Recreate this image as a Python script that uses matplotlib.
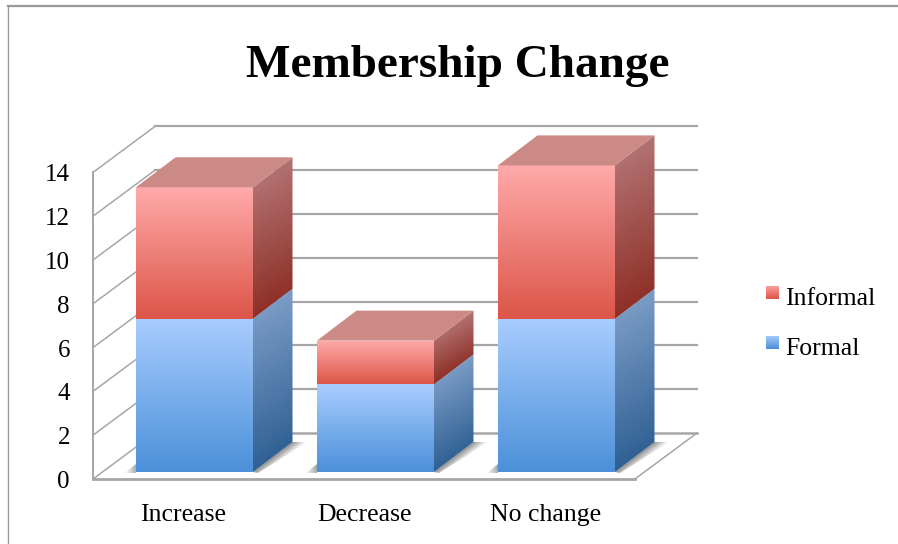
import numpy as np
import matplotlib
matplotlib.use("Agg")
import matplotlib.pyplot as plt
from matplotlib.patches import Polygon
from matplotlib.lines import Line2D

categories = ["Increase", "Decrease", "No change"]
formal = [7, 4, 7]
informal = [6, 2, 7]
y_ticks = [0, 2, 4, 6, 8, 10, 12, 14]

W, H = 898, 544
plt.rcParams["font.family"] = ["Liberation Serif", "DejaVu Serif"]

fig = plt.figure(figsize=(W / 100, H / 100), dpi=100, facecolor="white")
# axes on the front plane of the bars: 181 px per category, 21.9 px per unit
# limits run past the data so the 3d faces are not cut off
x_lo, x_hi, y_lo, y_hi = -0.5, 3.0, -1, 16
px_x, px_y = 181, 21.9
left = 104
bottom = 472 + (0 - y_lo) * px_y
ax = fig.add_axes([left / W, 1 - bottom / H, (x_hi - x_lo) * px_x / W, (y_hi - y_lo) * px_y / H])
ax.set_xlim(x_lo, x_hi)
ax.set_ylim(y_lo, y_hi)
ax.axis("off")

ux = 1 / px_x
uy = 1 / px_y
bar_w = 117 * ux
bar_dx, bar_dy = 39.5 * ux, 30 * uy
wall_x0 = -0.5 - 11 * ux  # front left corner of the side wall
wall_y0 = -7 * uy
wall_dx, wall_dy = 62 * ux, 46 * uy
wall_len = 542 * ux


def hexrgb(c):
    return np.array(matplotlib.colors.to_rgba(c))


def grad_poly(pts, c0, c1, direction=(0, -1), z=3):
    # polygon filled with a linear gradient, direction is in pixels
    pts = np.array(pts, dtype=float)
    x0, y0 = pts.min(axis=0)
    x1, y1 = pts.max(axis=0)
    xs, ys = np.meshgrid(np.linspace(x0, x1, 160), np.linspace(y0, y1, 160))
    t = (xs / ux) * direction[0] + (ys / uy) * direction[1]
    ends = (pts[:, 0] / ux) * direction[0] + (pts[:, 1] / uy) * direction[1]
    t = np.clip((t - ends.min()) / max(ends.max() - ends.min(), 1e-9), 0, 1)
    img = hexrgb(c0) * (1 - t[..., None]) + hexrgb(c1) * t[..., None]
    im = ax.imshow(img, extent=(x0, x1, y0, y1), origin="lower", aspect="auto",
                   zorder=z, interpolation="bilinear")
    clip = Polygon(pts, closed=True, transform=ax.transData, fc="none", ec="none", clip_on=False)
    ax.add_patch(clip)
    im.set_clip_path(clip)


grid_c = "#a6a6a6"
for i, v in enumerate(y_ticks):
    y = wall_y0 + v
    # side wall lines and back wall lines
    ax.plot([wall_x0, wall_x0 + wall_dx], [y, y + wall_dy], color=grid_c, lw=1.1,
            clip_on=False, zorder=1)
    ax.plot([wall_x0 + wall_dx, wall_x0 + wall_dx + wall_len], [y + wall_dy, y + wall_dy],
            color=grid_c, lw=1.6 if i else 1.8, clip_on=False, zorder=1)
    ax.text(wall_x0 - 23 * ux, y - 3 * uy, str(v), ha="right", va="center", fontsize=18,
            color="black", clip_on=False)

# wall edges and floor
ax.plot([wall_x0, wall_x0], [wall_y0, wall_y0 + 14], color=grid_c, lw=1.4, clip_on=False, zorder=1)
ax.plot([wall_x0, wall_x0 + wall_len], [wall_y0, wall_y0], color=grid_c, lw=2, clip_on=False, zorder=1)
ax.plot([wall_x0 + wall_len, wall_x0 + wall_len + wall_dx], [wall_y0, wall_y0 + wall_dy],
        color=grid_c, lw=1.1, clip_on=False, zorder=1)

for i in range(len(categories)):
    xa = i - bar_w / 2
    xb = i + bar_w / 2
    # floor shadow
    grad_poly([(xb, 0), (xb + bar_dx, bar_dy), (xb + bar_dx + 15 * ux, bar_dy), (xb + 5 * ux, -1 * uy)],
              "#8a8a8a", "#ffffff", (0.6, -0.8), z=2)
    grad_poly([(xa - 11 * ux, -1 * uy), (xa, 8 * uy), (xa, -1 * uy)], "#ffffff", "#9a9a9a", (1, 0.3), z=2)

    low = 0
    segments = [(formal[i], "#a9cdff", "#4b90d9", "#7b9cc6", "#2f6093"),
                (informal[i], "#ffaaaa", "#dc5548", "#b27272", "#8e2f27")]
    for val, c_top, c_bot, s_top, s_bot in segments:
        high = low + val
        grad_poly([(xa, low), (xb, low), (xb, high), (xa, high)], c_bot, c_top, (0, 1), z=4 + i)
        grad_poly([(xb, low), (xb + bar_dx, low + bar_dy), (xb + bar_dx, high + bar_dy), (xb, high)],
                  s_bot, s_top, (-0.6, 1), z=3.5 + i)
        low = high
    ax.add_patch(Polygon([(xa, low), (xb, low), (xb + bar_dx, low + bar_dy), (xa + bar_dx, low + bar_dy)],
                         closed=True, fc="#cc8a86", ec="none", zorder=4 + i, clip_on=False))
    ax.text(i - 11 * ux, -43 * uy, categories[i], ha="center", va="center", fontsize=18.5, clip_on=False)

ax.set_xlim(x_lo, x_hi)
ax.set_ylim(y_lo, y_hi)

fig.text(458 / W, 1 - 66 / H, "Membership Change", ha="center", va="center",
         fontsize=34, fontweight="bold", color="black")

# legend
legend_items = [("Informal", "#fba3a0", "#dc5548", 292.5), ("Formal", "#a9cdff", "#4b90d9", 342.5)]
for label, c_top, c_bot, py in legend_items:
    lax = fig.add_axes([766 / W, 1 - (py + 6.5) / H, 13 / W, 13 / H])
    lax.imshow(np.linspace(hexrgb(c_top), hexrgb(c_bot), 13)[:, None, :], aspect="auto")
    lax.axis("off")
    fig.text(785 / W, 1 - (py + 6.5) / H, label, ha="left", va="center", fontsize=18.5)

# outer frame, top and left only
fig.add_artist(Line2D([7.5 / W, 1], [1 - 5.5 / H, 1 - 5.5 / H], color="#999999", lw=1.6))
fig.add_artist(Line2D([7.5 / W, 7.5 / W], [1 - 5.5 / H, 0], color="#999999", lw=1.0))

fig.savefig("out.png", dpi=100)
